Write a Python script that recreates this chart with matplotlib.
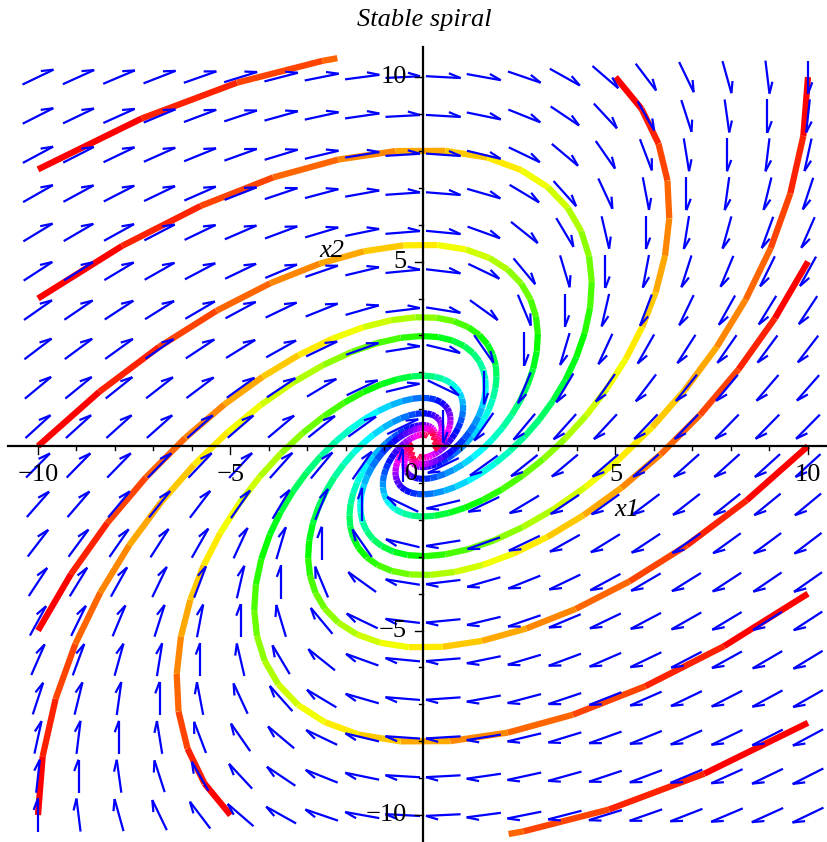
import numpy as np
import matplotlib
matplotlib.use('Agg')
import matplotlib.pyplot as plt
from matplotlib.collections import LineCollection
from matplotlib.colors import hsv_to_rgb

# linear system  x1' = a11*x1 + a12*x2 ,  x2' = a21*x1 + a22*x2
a11, a12 = -1.0, 1.0
a21, a22 = -1.0, 0.0

# initial points of the trajectories
x1_init = [-10, -10, -10, -10, -10, -5, 10, 10, 10, 10, 10, 5]
x2_init = [7.5, 4, 0, -5, -10, -10, -7.5, -4, 0, 5, 10, 10]

t_end = 7.3
t_step = 0.16
hue_period = 7.3
box = 10.5

x_ticks = [-10, -5, 5, 10]
y_ticks = [-10, -5, 5, 10]


def f(p):
    return np.array([a11*p[0] + a12*p[1], a21*p[0] + a22*p[1]])


def trajectory(p0):
    h = 0.01
    k = int(round(t_step/h))
    p = np.array(p0, dtype=float)
    pts = [p.copy()]
    ts = [0.0]
    n = int(round(t_end/h))
    for i in range(1, n+1):
        k1 = f(p)
        k2 = f(p + h/2*k1)
        k3 = f(p + h/2*k2)
        k4 = f(p + h*k3)
        p = p + h/6*(k1 + 2*k2 + 2*k3 + k4)
        if abs(p[0]) > box or abs(p[1]) > box:
            pts.append(p.copy()); ts.append(i*h)
            break
        if i % k == 0:
            pts.append(p.copy()); ts.append(i*h)
    return np.array(pts), np.array(ts)


fig = plt.figure(figsize=(8.28, 8.42), dpi=100)
ax = fig.add_axes([0, 0, 1, 1])
ax.set_xlim(-10.987, 10.52)
ax.set_ylim(-10.73, 12.09)
ax.axis('off')

# trajectories
for xa, ya in zip(x1_init, x2_init):
    pts, ts = trajectory((xa, ya))
    segs = np.stack([pts[:-1], pts[1:]], axis=1)
    hues = np.clip(ts[:-1]/hue_period, 0, 0.99)
    cols = hsv_to_rgb(np.stack([hues, np.ones_like(hues), np.ones_like(hues)], axis=1))
    lc = LineCollection(segs, colors=cols, linewidths=4.5, capstyle='butt', zorder=2)
    ax.add_collection(lc)

# direction field
g = np.linspace(-10, 10, 20)
X, Y = np.meshgrid(g, g)
U = a11*X + a12*Y
V = a21*X + a22*Y
N = np.hypot(U, V)
U, V = U/N, V/N
L = 0.9
Lb = 0.33
ang = np.deg2rad(-20)
ca, sa = np.cos(ang), np.sin(ang)
lines = []
for x, y, u, v in zip(X.ravel(), Y.ravel(), U.ravel(), V.ravel()):
    tail = (x - L/2*u, y - L/2*v)
    tip = (x + L/2*u, y + L/2*v)
    bu, bv = -u, -v
    barb = (tip[0] + Lb*(bu*ca - bv*sa), tip[1] + Lb*(bu*sa + bv*ca))
    lines.append([tail, tip])
    lines.append([tip, barb])
ax.add_collection(LineCollection(lines, colors='blue', linewidths=1.6, zorder=3))

# axes through origin
ax.plot([-10.78, 10.57], [0, 0], color='black', lw=1.6, zorder=4)
ax.plot([0, 0], [-10.75, 10.81], color='black', lw=1.6, zorder=4)
for i in range(-10, 11):
    if i == 0:
        continue
    tl = 0.21 if i % 5 == 0 else 0.1
    ax.plot([i, i], [0, -tl], color='black', lw=1.0, zorder=4)
    ax.plot([0, -tl], [i, i], color='black', lw=1.0, zorder=4)

font = 'Liberation Serif'
for v in x_ticks:
    ax.text(v, -0.48, str(v).replace('-', '\u2212'), ha='center', va='top',
            fontsize=19, family=font, zorder=5)
for v in y_ticks:
    ax.text(-0.42, v, str(v).replace('-', '\u2212'), ha='right', va='center',
            fontsize=19, family=font, zorder=5)
ax.text(-0.12, -0.45, '0', ha='right', va='top', fontsize=19, family=font, zorder=5)

ax.text(5.3, -1.73, 'x1', ha='center', va='center', fontsize=19, family=font,
        style='italic', zorder=5)
ax.text(-2.36, 5.3, 'x2', ha='center', va='center', fontsize=19, family=font,
        style='italic', zorder=5)

fig.text(0.512, 1 - 20/842, 'Stable spiral', ha='center', va='center',
         fontsize=19, family=font, style='italic')

fig.savefig('out.png', dpi=100)
